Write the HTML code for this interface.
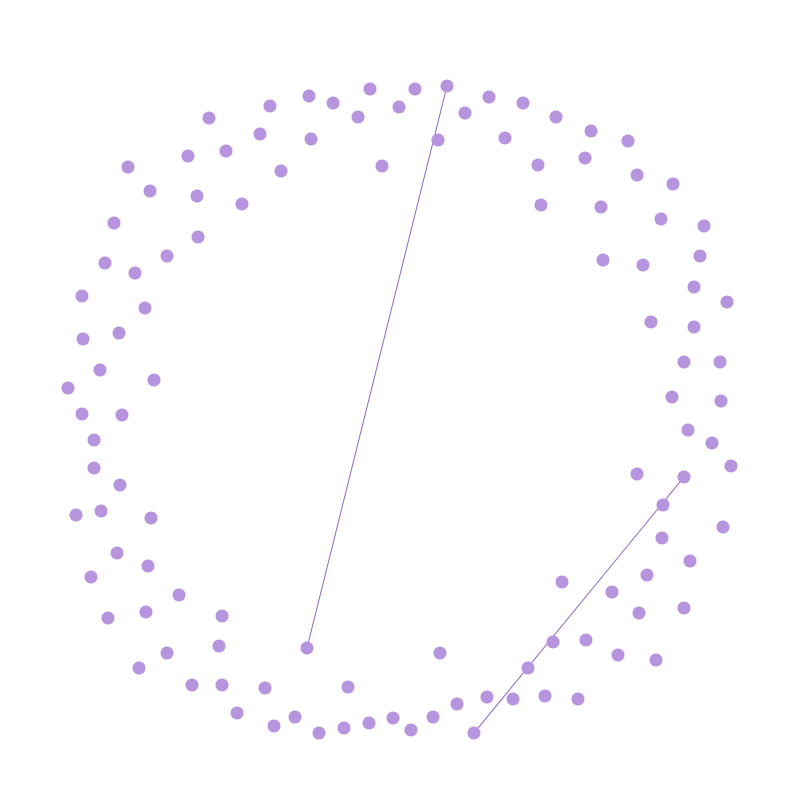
<!DOCTYPE html>
<html><head><meta charset="utf-8"><style>html,body{margin:0;padding:0;background:#fff;}svg{display:block;}</style></head>
<body>
<svg id="chart" width="800" height="800" viewBox="0 0 800 800">
<g id="edges"></g>
<g id="nodes"></g>
</svg>
<script>
const nodeX = [447,415,370,309,333,270,399,358,209,489,523,465,556,591,628,438,505,260,311,226,188,128,382,281,538,585,637,673,150,197,242,541,601,661,704,114,198,167,105,135,603,643,700,694,82,145,727,651,694,83,119,100,154,684,720,68,672,721,82,122,688,712,94,94,731,637,684,120,76,101,151,663,662,723,117,148,690,91,647,562,612,179,108,146,222,639,684,553,586,618,656,307,440,219,167,139,528,192,222,265,348,487,513,545,578,237,295,274,319,344,369,393,411,433,457,474];
const nodeY = [86,89,89,96,103,106,107,117,118,97,103,113,117,131,141,140,138,134,139,151,156,167,166,171,165,158,175,184,191,196,204,205,207,219,226,223,237,256,263,273,260,265,256,287,296,308,302,322,327,339,333,370,380,362,362,388,397,401,414,415,430,443,440,468,466,474,477,485,515,511,518,505,538,527,553,566,561,577,575,582,592,595,618,612,616,613,608,642,640,655,660,648,653,646,653,668,668,685,685,688,687,697,699,696,699,713,717,726,733,728,723,718,730,717,704,733];
const edgeFrom = [0, 66];
const edgeTo = [91, 115];
const NS = 'http://www.w3.org/2000/svg';
const eg = document.getElementById('edges');
for (let i = 0; i < edgeFrom.length; i++) {
  const l = document.createElementNS(NS, 'line');
  l.setAttribute('x1', nodeX[edgeFrom[i]]); l.setAttribute('y1', nodeY[edgeFrom[i]]);
  l.setAttribute('x2', nodeX[edgeTo[i]]); l.setAttribute('y2', nodeY[edgeTo[i]]);
  l.setAttribute('stroke', '#9467bd'); l.setAttribute('stroke-width', '1');
  
  
  eg.appendChild(l);
}
const ng = document.getElementById('nodes');
for (let i = 0; i < nodeX.length; i++) {
  const c = document.createElementNS(NS, 'circle');
  c.setAttribute('cx', nodeX[i]); c.setAttribute('cy', nodeY[i]); c.setAttribute('r', '6.5');
  c.setAttribute('fill', '#b794de');
  
  
  ng.appendChild(c);
}
</script>
</body></html>
